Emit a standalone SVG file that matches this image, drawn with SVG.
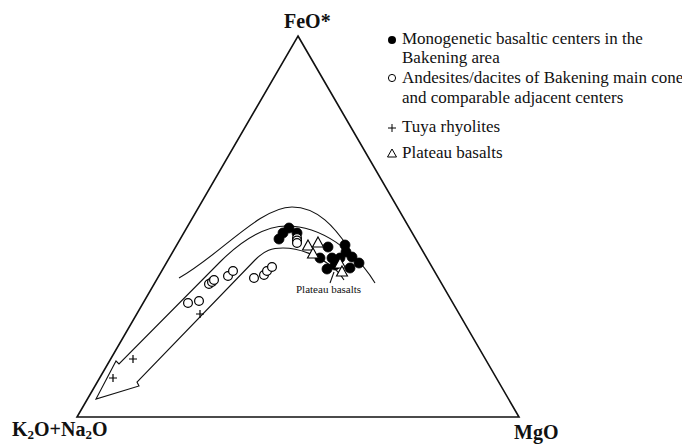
<svg xmlns="http://www.w3.org/2000/svg" width="682" height="444" viewBox="0 0 682 444">
<defs>
<style>
.lbl{font-family:"Liberation Serif","Times New Roman",serif;font-weight:bold;font-size:20px;fill:#111}
.leg{font-family:"Liberation Serif","Times New Roman",serif;font-size:17px;fill:#111}
.small{font-family:"Liberation Serif","Times New Roman",serif;font-size:11px;fill:#111}
.frame{fill:none;stroke:#111;stroke-width:1.6;stroke-linejoin:miter}
.curve{fill:none;stroke:#111;stroke-width:1.1}
.fd{fill:#000;stroke:#000;stroke-width:0.8}
.od{fill:#fff;stroke:#000;stroke-width:1.2}
.tri{fill:#fff;stroke:#000;stroke-width:1.1}
.plus{stroke:#000;stroke-width:1.2;fill:none}
</style>
<circle id="fdot" r="5" class="fd"/>
<circle id="odot" r="4.4" class="od"/>
<polygon id="trim" points="0,-6 5.5,4 -5.5,4" class="tri"/>
<path id="plusm" d="M-4,0H4M0,-4V4" class="plus"/>
</defs>
<rect width="682" height="444" fill="#fff"/>

<g id="frame">
<path class="frame" d="M298,36 L519,417 L77,417 Z"/>
</g>

<g id="apex-labels">
<text class="lbl" x="284" y="28">FeO*</text>
<text class="lbl" x="12" y="436">K<tspan font-size="13" dy="3">2</tspan><tspan dy="-3">O+Na</tspan><tspan font-size="13" dy="3">2</tspan><tspan dy="-3">O</tspan></text>
<text class="lbl" x="514" y="439">MgO</text>
</g>

<g id="connectors">
<path id="upper-curve" class="curve" d="M179,278 C220,255 260,207 292,207 C318,207 335,228 348,247"/>
<path id="trend-arrow" class="curve" d="M375,283 C355,250 320,226 287,226 C262,226 240,242 220,262 L119,364 L116,361 L96,399 L139,386 L137,382 L255,260 C265,250 272,248 283,248 C300,248 318,256 330,265 C337,270 341,275 344,280"/>
<path id="leader" class="curve" d="M330,283 L334,272"/>
</g>

<g id="basalt-dots">
<use href="#fdot" x="289" y="228"/>
<use href="#fdot" x="283" y="233"/>
<use href="#fdot" x="279" y="239"/>
<use href="#fdot" x="297" y="233"/>
<use href="#odot" x="297" y="238"/>
<use href="#odot" x="297" y="240.5"/>
<use href="#odot" x="297" y="243"/>
<use href="#fdot" x="328" y="247"/>
<use href="#fdot" x="345" y="245"/>
<use href="#fdot" x="346" y="252"/>
<use href="#fdot" x="320" y="258"/>
<use href="#fdot" x="332" y="258"/>
<use href="#fdot" x="340" y="258"/>
<use href="#fdot" x="352" y="257"/>
<use href="#fdot" x="359" y="263"/>
<use href="#fdot" x="335" y="265"/>
<use href="#fdot" x="327" y="269"/>
<use href="#fdot" x="350" y="268"/>
</g>

<g id="andesite-dots">
<use href="#odot" x="188" y="303"/>
<use href="#odot" x="199" y="301"/>
<use href="#odot" x="209" y="284"/>
<use href="#odot" x="212" y="282"/>
<use href="#odot" x="214" y="280"/>
<use href="#odot" x="228" y="276"/>
<use href="#odot" x="233" y="271"/>
<use href="#odot" x="254" y="278"/>
<use href="#odot" x="264" y="275"/>
<use href="#odot" x="267" y="271"/>
<use href="#odot" x="272" y="267"/>
</g>

<g id="plateau-triangles">
<use href="#trim" x="308" y="246"/>
<use href="#trim" x="318" y="243"/>
<use href="#trim" x="313" y="254"/>
<use href="#trim" x="340" y="264"/>
<use href="#trim" x="342" y="272"/>
</g>

<g id="rhyolite-plus">
<use href="#plusm" x="200" y="314"/>
<use href="#plusm" x="133" y="359"/>
<use href="#plusm" x="113" y="378"/>
</g>

<g id="plateau-label">
<text class="small" x="296" y="293">Plateau basalts</text>
</g>

<g id="legend">
<circle cx="392" cy="40" r="4" fill="#000"/>
<text class="leg" x="402" y="44">Monogenetic basaltic centers in the</text>
<text class="leg" x="402" y="63">Bakening area</text>
<circle cx="392" cy="78" r="3.6" fill="none" stroke="#000" stroke-width="1"/>
<text class="leg" x="402" y="83">Andesites/dacites of Bakening main cone</text>
<text class="leg" x="402" y="103">and comparable adjacent centers</text>
<path d="M388,128H396M392,124V132" stroke="#000" stroke-width="1"/>
<text class="leg" x="402" y="132">Tuya rhyolites</text>
<polygon points="392,149 396.5,157 387.5,157" fill="none" stroke="#000" stroke-width="1"/>
<text class="leg" x="402" y="158">Plateau basalts</text>
</g>
</svg>
